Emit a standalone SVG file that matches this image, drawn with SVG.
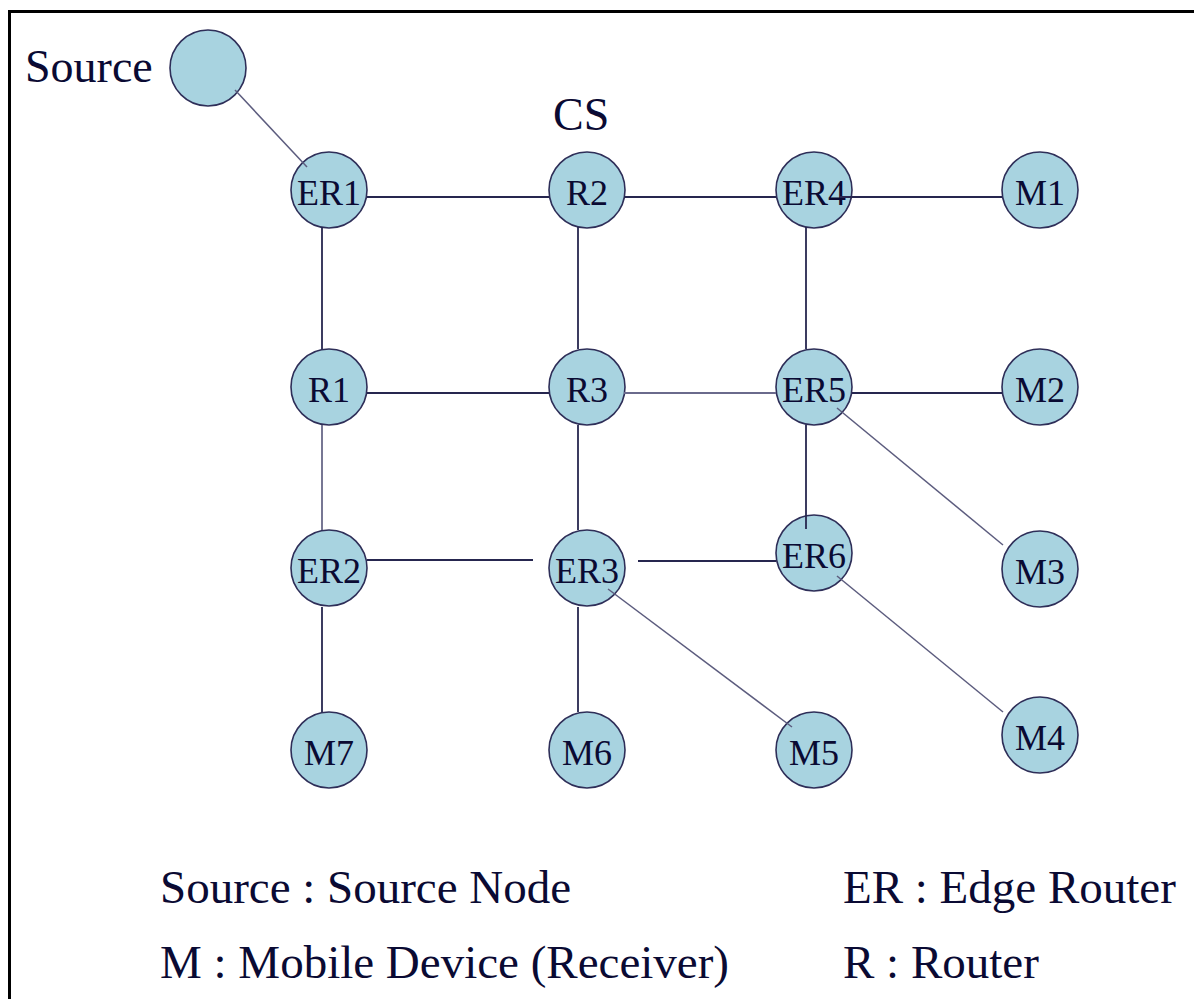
<svg xmlns="http://www.w3.org/2000/svg" width="1194" height="999" viewBox="0 0 1194 999" font-family="'Liberation Serif', 'Times New Roman', 'DejaVu Serif', serif">
<style>
.n circle{fill:#A8D3E0;stroke:#2E2E58;stroke-width:1.6}
.n text{font-size:36px;fill:#0A0A33;text-anchor:middle}
.c line{stroke:#26264F;stroke-width:1.8}
.c line.g{stroke:#5C5C7E;stroke-width:1.5}
.lbl{fill:#0A0A33}
</style>
<rect width="1194" height="999" fill="#ffffff"/>
<path d="M9.5 999 V11.5 H1194" fill="none" stroke="#000" stroke-width="3"/>
<text class="lbl" x="25" y="82" font-size="46" font-family="'Liberation Serif', serif">Source</text>
<text class="lbl" x="553" y="130" font-size="46" font-family="'Liberation Serif', serif">CS</text>
<g id="source" class="n"><circle cx="208" cy="68" r="38"/></g>
<g id="ER1" class="n"><circle cx="329" cy="190" r="38"/><text x="329" y="205" font-family="'Liberation Serif', serif">ER1</text></g>
<g id="R2" class="n"><circle cx="587" cy="190" r="38"/><text x="587" y="205" font-family="'Liberation Serif', serif">R2</text></g>
<g id="ER4" class="n"><circle cx="814" cy="190" r="38"/><text x="814" y="205" font-family="'Liberation Serif', serif">ER4</text></g>
<g id="M1" class="n"><circle cx="1040" cy="190" r="38"/><text x="1040" y="205" font-family="'Liberation Serif', serif">M1</text></g>
<g id="R1" class="n"><circle cx="329" cy="387" r="38"/><text x="329" y="402" font-family="'Liberation Serif', serif">R1</text></g>
<g id="R3" class="n"><circle cx="587" cy="387" r="38"/><text x="587" y="402" font-family="'Liberation Serif', serif">R3</text></g>
<g id="ER5" class="n"><circle cx="814" cy="387" r="38"/><text x="814" y="402" font-family="'Liberation Serif', serif">ER5</text></g>
<g id="M2" class="n"><circle cx="1040" cy="387" r="38"/><text x="1040" y="402" font-family="'Liberation Serif', serif">M2</text></g>
<g id="ER2" class="n"><circle cx="329" cy="568" r="38"/><text x="329" y="583" font-family="'Liberation Serif', serif">ER2</text></g>
<g id="ER3" class="n"><circle cx="587" cy="568" r="38"/><text x="587" y="583" font-family="'Liberation Serif', serif">ER3</text></g>
<g id="ER6" class="n"><circle cx="814" cy="553" r="38"/><text x="814" y="568" font-family="'Liberation Serif', serif">ER6</text></g>
<g id="M3" class="n"><circle cx="1040" cy="569" r="38"/><text x="1040" y="584" font-family="'Liberation Serif', serif">M3</text></g>
<g id="M7" class="n"><circle cx="329" cy="750" r="38"/><text x="329" y="765" font-family="'Liberation Serif', serif">M7</text></g>
<g id="M6" class="n"><circle cx="587" cy="750" r="38"/><text x="587" y="765" font-family="'Liberation Serif', serif">M6</text></g>
<g id="M5" class="n"><circle cx="814" cy="750" r="38"/><text x="814" y="765" font-family="'Liberation Serif', serif">M5</text></g>
<g id="M4" class="n"><circle cx="1040" cy="735" r="38"/><text x="1040" y="750" font-family="'Liberation Serif', serif">M4</text></g>
<g id="connectors" class="c">
<line class="g" x1="235" y1="90" x2="307" y2="167"/>
<line x1="367" y1="197" x2="549" y2="197"/>
<line x1="624" y1="197" x2="776" y2="197"/>
<line x1="840" y1="197" x2="1002" y2="197"/>
<line x1="322" y1="227" x2="322" y2="349"/>
<line x1="578" y1="227" x2="578" y2="349"/>
<line x1="806" y1="227" x2="806" y2="349"/>
<line x1="367" y1="393" x2="549" y2="393"/>
<line class="g" x1="624" y1="393" x2="776" y2="393" style="stroke:#6A6A8C;stroke-width:2.2"/>
<line x1="852" y1="393" x2="1002" y2="393"/>
<line class="g" x1="322" y1="425" x2="322" y2="530" style="stroke:#4A4A70"/>
<line x1="578" y1="425" x2="578" y2="530"/>
<line x1="806" y1="425" x2="806" y2="529"/>
<line class="g" x1="837" y1="408" x2="1003" y2="545"/>
<line x1="367" y1="560" x2="533" y2="560"/>
<line x1="638" y1="561" x2="776" y2="561"/>
<line x1="322" y1="607" x2="322" y2="712"/>
<line x1="578" y1="607" x2="578" y2="712"/>
<line class="g" x1="608" y1="589" x2="792" y2="727"/>
<line class="g" x1="837" y1="576" x2="1003" y2="712"/>
</g>
<text class="lbl" x="160" y="903" font-size="47" font-family="'Liberation Serif', serif">Source : Source Node</text>
<text class="lbl" x="843" y="903" font-size="47" font-family="'Liberation Serif', serif">ER : Edge Router</text>
<text class="lbl" x="160" y="978" font-size="47" font-family="'Liberation Serif', serif">M : Mobile Device (Receiver)</text>
<text class="lbl" x="843" y="978" font-size="47" font-family="'Liberation Serif', serif">R : Router</text>
</svg>
